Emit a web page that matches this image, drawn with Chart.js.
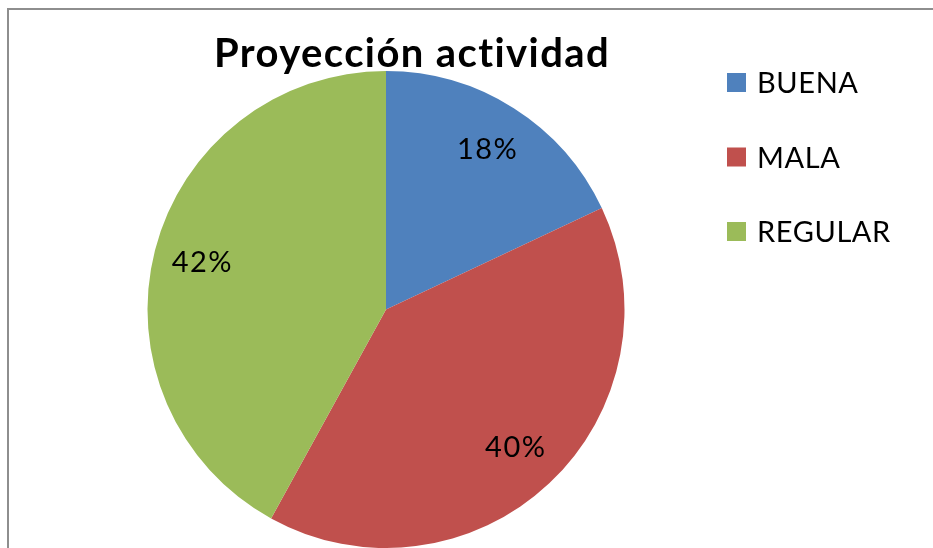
<!DOCTYPE html>
<html>
<head>
<meta charset="utf-8">
<title>Proyección actividad</title>
<script src="https://cdn.jsdelivr.net/npm/chart.js@4.4.1/dist/chart.umd.min.js"></script>
<style>
  html, body { margin: 0; padding: 0; background: #fff; overflow: hidden; }
  #marco { position: absolute; left: 7px; top: 8px; width: 1400px; height: 900px;
           border: 2px solid #8e8e8e; box-sizing: border-box; }
  #grafico { position: absolute; left: 0; top: 0; }
</style>
</head>
<body>
<div id="marco"></div>
<canvas id="grafico" width="933" height="548"></canvas>
<script>
const titulo = 'Proyección actividad';
const categorias = ['BUENA', 'MALA', 'REGULAR'];
const porcentajes = [18, 40, 42];
const colores = ['#4F81BD', '#C0504D', '#9BBB59'];

// titulo, leyenda y etiquetas de porcentaje dibujadas a mano
const textos = {
  id: 'textos',
  afterDatasetsDraw(chart) {
    const ctx = chart.ctx;
    const ds = chart.data.datasets[0];
    const total = ds.data.reduce((a, b) => a + b, 0);
    ctx.save();
    ctx.fillStyle = '#000';

    // porcentajes dentro de cada porcion
    ctx.font = '29px Lato';
    ctx.letterSpacing = '1.5px';
    ctx.textAlign = 'center';
    ctx.textBaseline = 'middle';
    chart.getDatasetMeta(0).data.forEach((arc, i) => {
      const p = arc.getProps(['x', 'y', 'startAngle', 'endAngle', 'outerRadius'], true);
      const mid = (p.startAngle + p.endAngle) / 2;
      const r = p.outerRadius * 0.795;
      const txt = Math.round(ds.data[i] / total * 100) + '%';
      ctx.fillText(txt, p.x + Math.cos(mid) * r, p.y + Math.sin(mid) * r);
    });

    // titulo
    ctx.font = 'bold 40px Lato';
    ctx.letterSpacing = '1.4px';
    ctx.textBaseline = 'alphabetic';
    ctx.fillText(titulo, 412, 67);

    // leyenda
    ctx.textAlign = 'left';
    ctx.font = '29px Lato';
    ctx.letterSpacing = '0.6px';
    chart.data.labels.forEach((lab, i) => {
      const y = 73 + i * 74.5;
      ctx.fillStyle = ds.backgroundColor[i];
      ctx.fillRect(727, y, 19, 19);
      ctx.fillStyle = '#000';
      ctx.fillText(lab, 757, y + 20);
    });
    ctx.restore();
  }
};

new Chart(document.getElementById('grafico'), {
  type: 'pie',
  data: {
    labels: categorias,
    datasets: [{
      data: porcentajes,
      backgroundColor: colores,
      borderWidth: 0
    }]
  },
  options: {
    responsive: false,
    animation: false,
    layout: { padding: { left: 146, right: 307, top: 71, bottom: 0 } },
    plugins: {
      legend: { display: false },
      title: { display: false },
      tooltip: { enabled: false }
    }
  },
  plugins: [textos]
});
</script>
</body>
</html>
